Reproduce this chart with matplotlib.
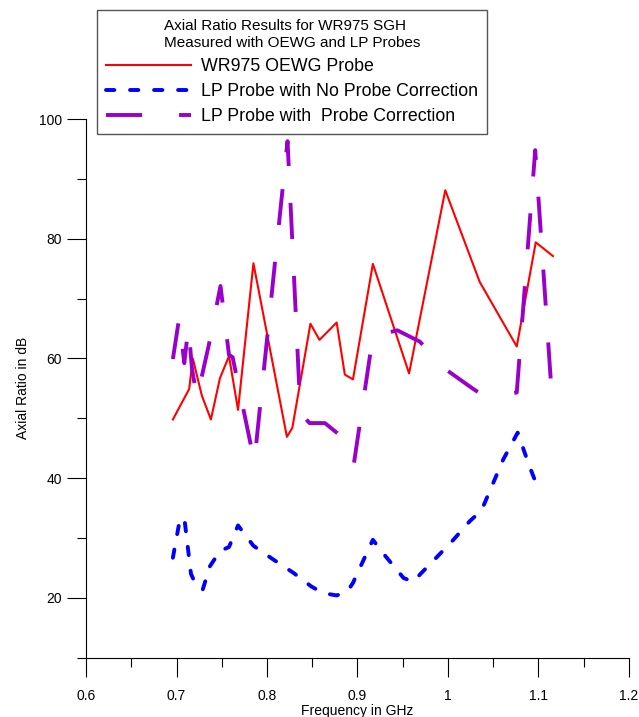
import matplotlib
matplotlib.use('Agg')
import matplotlib.pyplot as plt
from matplotlib.ticker import MultipleLocator, FuncFormatter

plt.rcParams['font.family'] = ['Liberation Sans', 'DejaVu Sans']
plt.rcParams['lines.scale_dashes'] = False

# WR975 OEWG probe (solid red)
oewg_f = [0.696, 0.714, 0.718, 0.728, 0.738, 0.748, 0.758, 0.768, 0.785,
          0.822, 0.828, 0.848, 0.858, 0.877, 0.886, 0.895, 0.917, 0.957,
          0.997, 1.035, 1.076, 1.097, 1.116]
oewg_ar = [49.8, 54.9, 60.0, 53.8, 49.8, 56.7, 60.4, 51.4, 75.9,
           46.9, 48.4, 65.8, 63.1, 66.0, 57.3, 56.5, 75.8, 57.5,
           88.1, 72.8, 62.0, 79.4, 77.1]

# LP probe, no probe correction (blue dashed)
lp_raw_f = [0.696, 0.703, 0.7086, 0.716, 0.7223, 0.729, 0.737, 0.748, 0.758,
            0.768, 0.785, 0.807, 0.829, 0.849, 0.862, 0.877, 0.889, 0.895,
            0.917, 0.928, 0.951, 0.962, 0.969, 0.987, 1.006, 1.024, 1.037,
            1.050, 1.061, 1.077, 1.090, 1.098, 1.102]
lp_raw_ar = [26.7, 32.5, 33.4, 24.0, 21.9, 21.4, 25.3, 27.8, 28.5,
             32.1, 28.7, 26.4, 24.2, 21.9, 20.8, 20.4, 21.1, 22.5,
             29.7, 27.5, 23.3, 22.7, 23.9, 26.7, 29.7, 32.8, 34.6,
             39.2, 43.1, 47.6, 42.0, 38.9, 38.8]

# LP probe with probe correction (purple long dash)
lp_corr_f = [0.696, 0.703, 0.7086, 0.7132, 0.717, 0.7226, 0.7358, 0.7486,
             0.758, 0.762, 0.786, 0.8227, 0.837, 0.847, 0.864, 0.882, 0.890,
             0.896, 0.917, 0.936, 0.944, 0.969, 0.994, 1.027, 1.035, 1.066,
             1.076, 1.0964, 1.115]
lp_corr_ar = [59.9, 66.8, 59.2, 65.4, 58.4, 53.4, 62.3, 72.1,
              60.6, 60.2, 42.7, 96.3, 50.9, 49.2, 49.2, 47.0, 43.4,
              42.4, 63.7, 64.4, 64.7, 62.8, 58.55, 55.0, 54.2, 54.1,
              54.3, 94.8, 53.2]

fig = plt.figure(figsize=(6.39, 7.17), dpi=100)
ax = fig.add_axes([0.1346, 0.0827, 0.8497, 0.7513])

ax.plot(oewg_f, oewg_ar, color='#ff0000', lw=1.5,
        label='WR975 OEWG Probe')
ax.plot(lp_raw_f, lp_raw_ar, color='#0000ff', lw=2.8,
        dashes=(6, 11.3), dash_capstyle='round',
        label='LP Probe with No Probe Correction')
ax.plot(lp_corr_f, lp_corr_ar, color='#9900cc', lw=2.8,
        dashes=(26, 26.6), label='LP Probe with  Probe Correction')

ax.set_xlim(0.6, 1.2)
ax.set_ylim(10, 100)
ax.xaxis.set_major_locator(MultipleLocator(0.1))
ax.xaxis.set_minor_locator(MultipleLocator(0.05))
ax.yaxis.set_major_locator(MultipleLocator(20))
ax.yaxis.set_minor_locator(MultipleLocator(10))
ax.xaxis.set_major_formatter(FuncFormatter(lambda v, p: f'{v:.1f}'.rstrip('0').rstrip('.')))

for s in ['top', 'right']:
    ax.spines[s].set_visible(False)
for s in ['left', 'bottom']:
    ax.spines[s].set_linewidth(0.8)
ax.tick_params(which='major', length=13.5, width=0.8, labelsize=10, pad=4)
ax.tick_params(axis='x', which='major', pad=9)
ax.tick_params(which='minor', length=6.8, width=0.8)

ax.set_xlabel('Frequency in GHz', fontsize=10, labelpad=1)
ax.set_ylabel('Axial Ratio in dB', fontsize=10, labelpad=6)

leg = ax.legend(loc='upper left', bbox_to_anchor=(97 / 639, 1 - 10 / 717),
                bbox_transform=fig.transFigure, fontsize=12.8,
                title='Axial Ratio Results for WR975 SGH\nMeasured with OEWG and LP Probes',
                title_fontsize=11, fancybox=False, framealpha=1,
                edgecolor='#555555', handlelength=4.8, handletextpad=0.55,
                labelspacing=0.45, borderaxespad=0, borderpad=0.5)
leg.get_frame().set_linewidth(1.0)
leg.get_title().set_linespacing(1.3)

fig.savefig('out.png', dpi=100)
